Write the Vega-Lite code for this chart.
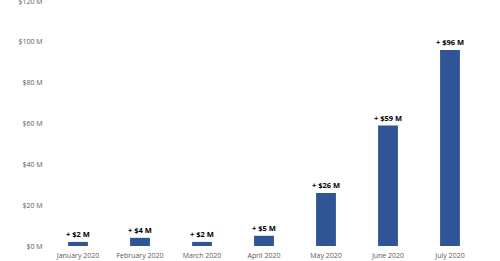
{
  "$schema": "https://vega.github.io/schema/vega-lite/v6.json",
  "autosize": {"type": "none"},
  "padding": {"left": 47, "top": 1, "right": 19, "bottom": 15},
  "width": 434,
  "height": 245,
  "background": "white",
  "config": {"view": {"stroke": null}, "font": "Open Sans"},
  "data": {
    "values": [
      {"month": "January 2020", "value": 2, "label": "+ $2 M"},
      {"month": "February 2020", "value": 4, "label": "+ $4 M"},
      {"month": "March 2020", "value": 2, "label": "+ $2 M"},
      {"month": "April 2020", "value": 5, "label": "+ $5 M"},
      {"month": "May 2020", "value": 26, "label": "+ $26 M"},
      {"month": "June 2020", "value": 59, "label": "+ $59 M"},
      {"month": "July 2020", "value": 96, "label": "+ $96 M"}
    ]
  },
  "encoding": {
    "x": {
      "field": "month", "type": "nominal", "sort": null,
      "scale": {"paddingInner": 0.68, "paddingOuter": 0.34},
      "axis": {"title": null, "labelAngle": 0, "domain": false, "ticks": false, "labelPadding": 5, "labelFontSize": 7, "labelColor": "#595959", "labelFont": "Open Sans"}
    },
    "y": {
      "field": "value", "type": "quantitative",
      "scale": {"domain": [0, 120], "nice": false},
      "axis": {"title": null, "values": [0, 20, 40, 60, 80, 100, 120], "labelExpr": "'$' + datum.value + ' M'", "grid": false, "domain": false, "ticks": false, "labelPadding": 5, "labelFontSize": 7, "labelColor": "#595959", "labelFont": "Open Sans"}
    }
  },
  "layer": [
    {"mark": {"type": "bar", "color": "#2F5597"}},
    {"mark": {"type": "text", "baseline": "bottom", "dy": -3, "fontSize": 7.5, "fontWeight": "bold", "color": "#000000", "font": "Open Sans"},
     "encoding": {"text": {"field": "label"}}}
  ]
}
